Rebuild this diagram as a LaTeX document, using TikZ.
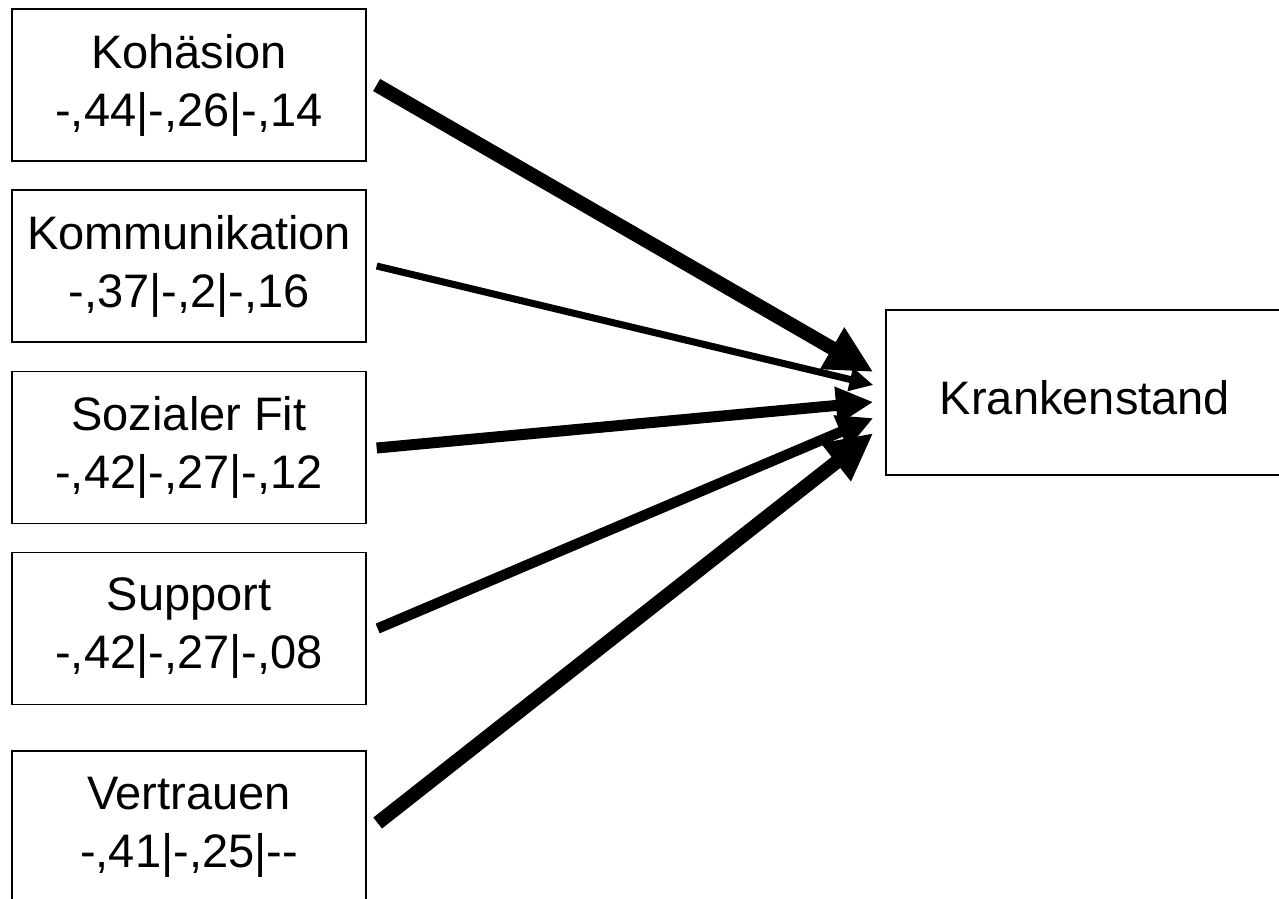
\documentclass[tikz,border=0pt]{standalone}
\usepackage{fontspec}
\setmainfont{Liberation Sans}
\usetikzlibrary{arrows.meta,calc}
\begin{document}
\begin{tikzpicture}[x=1pt,y=-1pt,
  box/.style={draw=black,line width=1.3pt,minimum width=354pt,minimum height=152pt,inner sep=0pt,align=center,font=\fontsize{47}{57}\selectfont,execute at begin node={\rule{0pt}{44pt}}},
  conn/.style={line width=#1,-{Triangle[length=0pt 3.4,width=0pt 3.2]}}]
\clip (0,0) rectangle (1279,898);
\fill[white] (0,0) rectangle (1279,898);
\node[box] (koh) at (189,85) {Koh\"asion\\[1pt]-,44|-,26|-,14};
\node[box] (kom) at (189,266) {Kommunikation\\[1pt]-,37|-,2|-,16};
\node[box] (soz) at (189,447.5) {Sozialer Fit\\[1pt]-,42|-,27|-,12};
\node[box] (sup) at (189,628.5) {Support\\[1pt]-,42|-,27|-,08};
\node[box] (ver) at (189,827) {Vertrauen\\[1pt]-,41|-,25|-{}-};
\node[box,execute at begin node={},minimum width=420pt,minimum height=165pt] (kr) at (1096,392.5) {\hspace*{-22pt}Krankenstand};
\draw[conn=14pt] ($(koh.east)+(10,0)$) -- ($(kr.west)+(-12,-20.5)$);
\draw[conn=7pt] ($(kom.east)+(10,0)$) -- ($(kr.west)+(-12,-7.5)$);
\draw[conn=11pt] ($(soz.east)+(10,0.5)$) -- ($(kr.west)+(-12,9.5)$);
\draw[conn=10.5pt] ($(sup.east)+(11,0)$) -- ($(kr.west)+(-12,25.5)$);
\draw[conn=14pt] ($(ver.east)+(11,-4)$) -- ($(kr.west)+(-12,40.5)$);
\end{tikzpicture}
\end{document}
